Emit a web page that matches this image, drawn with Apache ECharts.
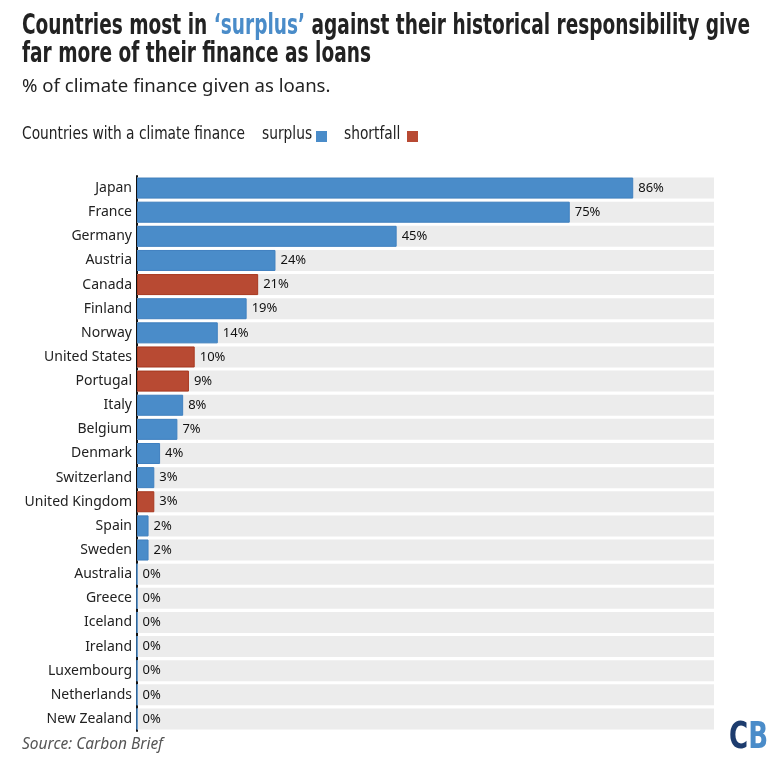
<!DOCTYPE html>
<html><head><meta charset="utf-8">
<script src="https://cdn.jsdelivr.net/npm/echarts@6/dist/echarts.min.js"></script>
<style>html,body{margin:0;padding:0;background:#fff}#c{width:780px;height:774px}</style>
</head><body><div id="c"></div>
<script>
const categories = ["Japan","France","Germany","Austria","Canada","Finland","Norway","United States","Portugal","Italy","Belgium","Denmark","Switzerland","United Kingdom","Spain","Sweden","Australia","Greece","Iceland","Ireland","Luxembourg","Netherlands","New Zealand"];
const values = [86,75,45,24,21,19,14,10,9,8,7,4,3,3,2,2,0,0,0,0,0,0,0];
const status = ["surplus","surplus","surplus","surplus","shortfall","surplus","surplus","shortfall","shortfall","surplus","surplus","surplus","surplus","shortfall","surplus","surplus","surplus","surplus","surplus","surplus","surplus","surplus","surplus"];
const legendNames = ["surplus","shortfall"];
const maxValue = 100;

const BLUE = '#4a8cc9', RED = '#b84a33', NAVY = '#1d3c6e', INK = '#222';
const surplus = values.map((v,i)=> status[i]==='surplus' ? v : '-');
const shortfall = values.map((v,i)=> status[i]==='shortfall' ? v : '-');
const bg = categories.map(()=> maxValue);

const COND = '"DejaVu Sans Condensed","DejaVu Sans",sans-serif';
const BODY = '"Noto Sans",sans-serif';
const cnv = document.createElement('canvas').getContext('2d');
function measure(text, font){ cnv.font = font; return cnv.measureText(text).width; }
function fit(text, font, target){ return target / measure(text, font); }

const titleFont = 'bold 28px ' + COND;
const t1a = 'Countries most in ', t1b = '‘surplus’', t1c = ' against their historical responsibility give';
const titleScale = fit(t1a + t1b + t1c, titleFont, 728);
const legFont = '17px ' + COND;
const legPrefix = 'Countries with a climate finance';
const legScale = fit(legPrefix, legFont, 223);
const cbFont = 'bold 38px ' + COND;
const cbScale = fit('CB', cbFont, 39);

const labelCfg = {show:true, position:'right', distance:5, formatter:'{c}%', color:'#111', fontSize:13, fontFamily:BODY};

const graphics = [
  {type:'text', x:22, y:26.5, scaleX:titleScale, style:{
    text:'{a|' + t1a + '}{b|' + t1b + '}{a|' + t1c + '}', verticalAlign:'middle',
    rich:{a:{font:titleFont, fill:INK}, b:{font:titleFont, fill:BLUE}}}},
  {type:'text', x:22, y:54.5, scaleX:titleScale, style:{text:'far more of their finance as loans', font:titleFont, fill:INK, verticalAlign:'middle'}},
  {type:'text', x:22, y:86.5, style:{text:'% of climate finance given as loans.', font:'18.6px ' + BODY, fill:INK, verticalAlign:'middle'}},
  {type:'text', x:22, y:135, scaleX:legScale, style:{text:legPrefix, font:legFont, fill:INK, verticalAlign:'middle'}},
  {type:'text', x:262, y:135, scaleX:legScale, style:{text:legendNames[0], font:legFont, fill:INK, verticalAlign:'middle'}},
  {type:'rect', shape:{x:316, y:131, width:11, height:11}, style:{fill:BLUE}},
  {type:'text', x:344, y:135, scaleX:legScale, style:{text:legendNames[1], font:legFont, fill:INK, verticalAlign:'middle'}},
  {type:'rect', shape:{x:407, y:131, width:11, height:11}, style:{fill:RED}},
  {type:'text', x:22, y:745, style:{text:'Source: Carbon Brief', font:'italic 15.5px ' + BODY, fill:'#555', verticalAlign:'middle'}},
  {type:'text', x:729, y:738, scaleX:cbScale, style:{
    text:'{c|C}{d|B}', verticalAlign:'middle',
    rich:{c:{font:cbFont, fill:NAVY}, d:{font:cbFont, fill:BLUE}}}}
];

const chart = echarts.init(document.getElementById('c'));
chart.setOption({
  animation:false,
  graphic:graphics,
  grid:{left:137, right:66, top:176, height:555, containLabel:false},
  xAxis:{type:'value', min:0, max:maxValue, show:false},
  yAxis:{type:'category', data:categories, inverse:true,
    axisLine:{show:true, lineStyle:{color:'#111', width:2}},
    axisTick:{show:false},
    axisLabel:{fontFamily:BODY, fontSize:14, color:INK, margin:5}
  },
  series:[
    {name:'bg', type:'bar', data:bg, barWidth:21, barGap:'-100%', silent:true, itemStyle:{color:'#ececec'}, z:1},
    {name:legendNames[0], type:'bar', stack:'s', data:surplus, barWidth:21, barGap:'-100%', itemStyle:{color:BLUE, borderColor:'#3f80c0', borderWidth:1}, label:labelCfg, z:2},
    {name:legendNames[1], type:'bar', stack:'s', data:shortfall, barWidth:21, barGap:'-100%', itemStyle:{color:RED, borderColor:'#a8381f', borderWidth:1}, label:labelCfg, z:2}
  ]
});
</script></body></html>
